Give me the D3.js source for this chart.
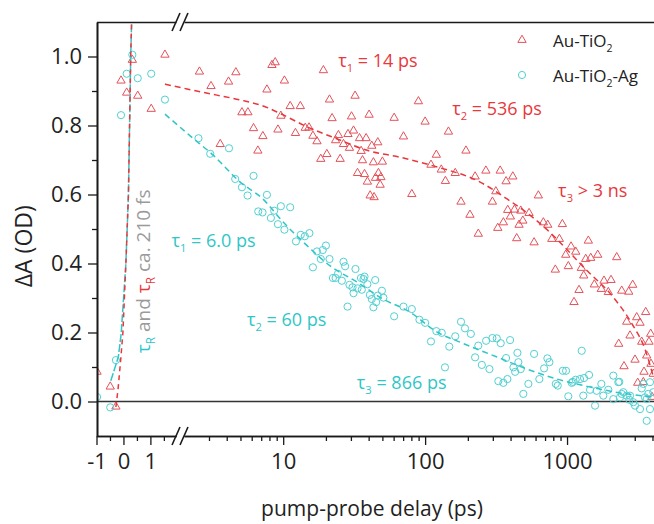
<!DOCTYPE html>
<html>
<head>
<meta charset="utf-8">
<script src="https://cdn.jsdelivr.net/npm/d3@7/dist/d3.min.js"></script>
<style>
  body { margin: 0; background: #fff; }
  svg text { font-family: "Open Sans", "Noto Sans", sans-serif; font-weight: 400; }
</style>
</head>
<body>
<div id="chart"></div>
<script>
// delay (ps), dA (OD)
const auTiO2Points = [
  [-0.98, 0.086], [-0.49, 0.043], [-0.28, -0.015], [-0.09, 0.93], [0.12, 0.895], [0.33, 0.99], [0.53, 0.886], [1.03, 0.848], [1.54, 1.005],
  [2.57, 0.956], [3.10, 0.914], [3.60, 0.746], [4.12, 0.927], [4.64, 0.954], [5.12, 0.838], [5.64, 0.838], [6.18, 0.792], [6.63, 0.727],
  [7.19, 0.769], [7.68, 0.904], [8.33, 0.975], [8.78, 0.983], [9.18, 0.788], [9.63, 0.828], [10.2, 0.930], [11.2, 0.856], [12.2, 0.778],
  [13.2, 0.856], [14.3, 0.793], [15.2, 0.794], [16.2, 0.770], [17.3, 0.754], [18.4, 0.703], [19.2, 0.960], [20.3, 0.717], [21.2, 0.875],
  [22.1, 0.821], [23.4, 0.757], [24.5, 0.772], [25.2, 0.703], [26.6, 0.746], [28.6, 0.775], [29.3, 0.735], [30.3, 0.826], [31.3, 0.785],
  [32.1, 0.886], [33.4, 0.662], [34.5, 0.763], [35.4, 0.726], [36.2, 0.699], [37.4, 0.659], [38.4, 0.763], [39.2, 0.637], [40.3, 0.831],
  [41.0, 0.597], [42.1, 0.741], [43.2, 0.693], [43.7, 0.592], [44.7, 0.648], [46.4, 0.751], [46.9, 0.662], [48.2, 0.628], [48.8, 0.650],
  [50.0, 0.695], [60.5, 0.822], [70.4, 0.768], [80.6, 0.601], [89.7, 0.870], [100, 0.811], [110, 0.686], [120, 0.715], [130, 0.672],
  [139, 0.639], [146, 0.782], [163, 0.662], [179, 0.579], [194, 0.727], [207, 0.541], [225, 0.652], [237, 0.486], [268, 0.669],
  [298, 0.579], [315, 0.609], [325, 0.503], [338, 0.669], [356, 0.519], [372, 0.638], [382, 0.555], [399, 0.536], [415, 0.652],
  [426, 0.556], [442, 0.473], [459, 0.512], [472, 0.553], [488, 0.524], [540, 0.546], [586, 0.461], [628, 0.597], [681, 0.519],
  [731, 0.512], [781, 0.471], [827, 0.382], [883, 0.471], [927, 0.514], [979, 0.425], [1021, 0.392], [1067, 0.449], [1120, 0.288],
  [1151, 0.434], [1215, 0.323], [1261, 0.387], [1311, 0.365], [1354, 0.413], [1413, 0.466], [1469, 0.416], [1557, 0.339], [1645, 0.425],
  [1743, 0.326], [1822, 0.350], [1954, 0.317], [2041, 0.352], [2239, 0.418], [2312, 0.167], [2428, 0.321], [2520, 0.102], [2633, 0.231],
  [2720, 0.318], [2778, 0.191], [2902, 0.338], [3013, 0.121], [3096, 0.244], [3148, 0.054], [3267, 0.228], [3358, 0.173], [3447, 0.056],
  [3486, 0.086], [3584, 0.259], [3642, 0.133], [3780, 0.173], [3886, 0.196], [3905, 0.109], [3969, 0.013], [4053, 0.080]
];

const auTiO2AgPoints = [
  [-0.98, 0.013], [-0.49, -0.017], [-0.28, 0.12], [-0.09, 0.83], [0.12, 0.95], [0.33, 1.005], [0.53, 0.937], [1.03, 0.95], [1.54, 0.875],
  [2.53, 0.763], [3.06, 0.718], [4.15, 0.734], [4.59, 0.645], [5.12, 0.621], [5.61, 0.597], [6.18, 0.654], [6.67, 0.551], [7.15, 0.548],
  [7.68, 0.599], [8.19, 0.532], [8.64, 0.553], [9.18, 0.514], [9.63, 0.566], [10.2, 0.498], [11.2, 0.563], [12.3, 0.464], [13.3, 0.483],
  [14.2, 0.479], [15.3, 0.488], [16.2, 0.389], [17.3, 0.435], [18.4, 0.413], [19.0, 0.439], [20.0, 0.452], [21.2, 0.413], [22.4, 0.358],
  [23.4, 0.358], [24.3, 0.370], [25.9, 0.350], [26.6, 0.405], [27.3, 0.392], [28.4, 0.275], [29.3, 0.338], [30.8, 0.331], [31.3, 0.314],
  [32.3, 0.384], [33.4, 0.328], [35.3, 0.358], [35.8, 0.324], [36.8, 0.355], [37.4, 0.362], [39.2, 0.340], [40.8, 0.309], [42.1, 0.297],
  [43.2, 0.273], [44.5, 0.352], [45.2, 0.288], [46.4, 0.307], [49.6, 0.321], [50.8, 0.301], [60.5, 0.247], [70.4, 0.275], [80.6, 0.268],
  [91.2, 0.237], [100, 0.228], [110, 0.174], [120, 0.204], [131, 0.199], [138, 0.099], [148, 0.159], [163, 0.189], [179, 0.231],
  [191, 0.212], [210, 0.196], [225, 0.128], [237, 0.162], [251, 0.106], [269, 0.176], [284, 0.094], [298, 0.184], [320, 0.183],
  [328, 0.059], [341, 0.169], [356, 0.054], [372, 0.126], [380, 0.065], [397, 0.178], [419, 0.099], [431, 0.086], [447, 0.141],
  [454, 0.114], [472, 0.094], [492, 0.022], [534, 0.051], [586, 0.138], [638, 0.065], [689, 0.096], [727, 0.125], [751, 0.114],
  [833, 0.051], [860, 0.046], [933, 0.089], [984, 0.089], [1021, 0.015], [1079, 0.054], [1097, 0.057], [1151, 0.063], [1235, 0.065],
  [1269, 0.147], [1302, 0.017], [1318, 0.068], [1429, 0.077], [1452, 0.034], [1575, -0.012], [1619, 0.031], [1745, 0.051], [1801, 0.017],
  [1954, 0.034], [2119, 0.075], [2119, 0.007], [2297, 0.056], [2335, 0.057], [2362, 0.012], [2428, 0.022], [2492, 0.027], [2633, 0.017],
  [2746, 0.005], [2778, 0.017], [2930, -0.002], [3013, -0.012], [3267, -0.022], [3358, 0.038], [3447, 0.051], [3542, 0.012], [3642, 0.007],
  [3642, -0.056], [3736, 0.022], [3841, 0.056], [3841, -0.022], [4053, 0.027]
];

// fitted curves (dashed)
const auTiO2Rise = [[-0.28, -0.016], [-0.2, 0.036], [-0.1, 0.123], [-0.02, 0.2], [0.09, 0.4], [0.185, 0.6], [0.27, 1.0], [0.31, 1.12]];
const auTiO2AgRise = [[-0.47, 0.06], [-0.19, 0.129], [-0.085, 0.196], [0.09, 0.4], [0.185, 0.6], [0.27, 1.0], [0.31, 1.12]];
const auTiO2Fit = [
  [1.54, 0.92], [2.1, 0.906], [3.41, 0.888], [5.0, 0.874], [7.4, 0.855], [9.5, 0.835], [14.8, 0.796], [24, 0.761], [39, 0.728],
  [66.7, 0.708], [114, 0.683], [244, 0.636], [378, 0.587], [548, 0.54], [759, 0.49], [1000, 0.44], [1340, 0.385], [2110, 0.303],
  [2870, 0.225], [3540, 0.152], [4100, 0.065]
];
const auTiO2AgFit = [
  [1.54, 0.833], [2.21, 0.770], [3.21, 0.714], [4.98, 0.636], [7.2, 0.587], [10, 0.520], [14.8, 0.451], [21.4, 0.393], [33.2, 0.346],
  [50.6, 0.297], [78.4, 0.259], [121.6, 0.201], [176, 0.172], [321, 0.129], [523, 0.094], [851, 0.065], [1452, 0.042], [2360, 0.025],
  [4080, 0.013]
];

const xLinTicks = [-1, 0, 1];
const xLinMinor = [-0.5, 0.5, 1.5];
const xLogTicks = [10, 100, 1000];
const xLogMinor = [3, 4, 5, 6, 7, 8, 9, 20, 30, 40, 50, 60, 70, 80, 90, 200, 300, 400, 500, 600, 700, 800, 900, 2000, 3000, 4000];
const yTicks = [0, 0.2, 0.4, 0.6, 0.8, 1.0];
const yMinor = [0.1, 0.3, 0.5, 0.7, 0.9];

const red = "#e8383d";
const cyan = "#2fc6c8";

const width = 654;
const height = 524;
const plotTop = 22, plotBottom = 436, plotLeft = 97, plotRight = 654;

const svg = d3.select("#chart")
  .append("svg")
  .attr("width", width)
  .attr("height", height);

// broken x axis: linear part then log part
const xLin = d3.scaleLinear().domain([-1, 1.95]).range([96.5, 176]);
const xLog = d3.scaleLog().domain([2, 4100]).range([184, plotRight]);
const x = (v) => (v < 1.97 ? xLin(v) : xLog(v));
const y = d3.scaleLinear().domain([-0.1, 1.1]).range([plotBottom, plotTop]);

svg.append("clipPath").attr("id", "plot")
  .append("rect").attr("x", plotLeft).attr("y", plotTop).attr("width", plotRight - plotLeft).attr("height", plotBottom - plotTop);

// zero line
svg.append("line")
  .attr("x1", plotLeft).attr("x2", plotRight)
  .attr("y1", y(0)).attr("y2", y(0))
  .attr("stroke", "#333").attr("stroke-width", 1.6);

const plot = svg.append("g").attr("clip-path", "url(#plot)");

const line = d3.line().x((d) => x(d[0])).y((d) => y(d[1]));
const smooth = d3.line().curve(d3.curveMonotoneX).x((d) => x(d[0])).y((d) => y(d[1]));

// scatter
plot.append("g").selectAll("path")
  .data(auTiO2Points)
  .enter().append("path")
  .attr("d", d3.symbol().type(d3.symbolTriangle).size(30))
  .attr("transform", (d) => "translate(" + x(d[0]) + "," + y(d[1]) + ")")
  .attr("fill", "none")
  .attr("stroke", "#e4525a")
  .attr("stroke-width", 1);

plot.append("g").selectAll("circle")
  .data(auTiO2AgPoints)
  .enter().append("circle")
  .attr("cx", (d) => x(d[0]))
  .attr("cy", (d) => y(d[1]))
  .attr("r", 3.6)
  .attr("fill", "none")
  .attr("stroke", "#52d0d2")
  .attr("stroke-width", 1);

// fit lines
plot.append("path").attr("d", line(auTiO2AgRise))
  .attr("fill", "none").attr("stroke", cyan).attr("stroke-width", 1.5).attr("stroke-dasharray", "8,2");
plot.append("path").attr("d", line(auTiO2Rise))
  .attr("fill", "none").attr("stroke", red).attr("stroke-width", 1.5).attr("stroke-dasharray", "5,4");
plot.append("path").attr("d", smooth(auTiO2Fit))
  .attr("fill", "none").attr("stroke", red).attr("stroke-width", 1.5).attr("stroke-dasharray", "6,4");
plot.append("path").attr("d", smooth(auTiO2AgFit))
  .attr("fill", "none").attr("stroke", cyan).attr("stroke-width", 1.5).attr("stroke-dasharray", "6,4");

// axes
const axisColor = "#1a1a1a";
const styleAxis = (g) => {
  g.select(".domain").attr("stroke", axisColor).attr("stroke-width", 1.6);
  g.selectAll(".tick line").attr("stroke", axisColor).attr("stroke-width", 1.3);
  g.selectAll(".tick text").attr("fill", "#222").style("font-size", "22px").style("font-family", "'Open Sans', sans-serif");
};

const plain = (d) => String(d);
const bottomAxes = [
  d3.axisBottom(xLin).tickValues(xLinTicks).tickSize(9).tickPadding(8).tickFormat(plain),
  d3.axisBottom(xLin).tickValues(xLinMinor).tickSize(5).tickFormat(""),
  d3.axisBottom(xLog).tickValues(xLogTicks).tickSize(9).tickPadding(8).tickFormat(plain),
  d3.axisBottom(xLog).tickValues(xLogMinor).tickSize(5).tickFormat("")
];
bottomAxes.forEach((a) => {
  svg.append("g")
    .attr("transform", "translate(0," + plotBottom + ")")
    .call(a.tickSizeOuter(0))
    .call(styleAxis);
});

[xLin, xLog].forEach((s) => {
  svg.append("g")
    .attr("transform", "translate(0," + plotTop + ")")
    .call(d3.axisTop(s).tickValues([]).tickSizeOuter(0))
    .call(styleAxis);
});

svg.append("g")
  .attr("transform", "translate(" + plotLeft + ",0)")
  .call(d3.axisLeft(y).tickValues(yTicks).tickSize(9).tickPadding(6).tickSizeOuter(0).tickFormat(d3.format(".1f")))
  .call(styleAxis);
svg.append("g")
  .attr("transform", "translate(" + plotLeft + ",0)")
  .call(d3.axisLeft(y).tickValues(yMinor).tickSize(5).tickSizeOuter(0).tickFormat(""))
  .call(styleAxis);

// break marks
[plotTop, plotBottom].forEach((yy) => {
  [xLin(1.95), xLog(2)].forEach((xx) => {
    svg.append("line")
      .attr("x1", xx - 4).attr("y1", yy + 9)
      .attr("x2", xx + 4).attr("y2", yy - 9)
      .attr("stroke", axisColor).attr("stroke-width", 1.6);
  });
});

// axis titles
svg.append("text")
  .attr("x", 372)
  .attr("y", 516)
  .attr("text-anchor", "middle")
  .attr("fill", "#222")
  .style("font-size", "21px")
  .text("pump-probe delay (ps)");

svg.append("text")
  .attr("transform", "translate(32," + y(0.45) + ") rotate(-90)")
  .attr("text-anchor", "middle")
  .attr("fill", "#222")
  .style("font-size", "23px")
  .text("ΔA (OD)");

// annotation helper: parts are [text, isSub, color]
const label = (g, px, py, parts, size) => {
  const t = g.append("text").attr("x", px).attr("y", py).style("font-size", size + "px");
  let shifted = false;
  parts.forEach((p) => {
    const dy = p[1] && !shifted ? 5 : !p[1] && shifted ? -5 : 0;
    shifted = p[1];
    t.append("tspan")
      .attr("dy", dy)
      .attr("fill", p[2])
      .style("font-size", p[1] ? size * 0.62 + "px" : null)
      .text(p[0]);
  });
  return t;
};

label(svg, x(24.4), y(0.97), [["τ", false, red], ["1", true, red], [" = 14 ps", false, red]], 18);
label(svg, x(155), y(0.83), [["τ", false, red], ["2", true, red], [" = 536 ps", false, red]], 18);
label(svg, x(865), y(0.593), [["τ", false, red], ["3", true, red], [" > 3 ns", false, red]], 18);
label(svg, x(1.78), y(0.448), [["τ", false, cyan], ["1", true, cyan], [" = 6.0 ps", false, cyan]], 18);
label(svg, x(5.55), y(0.219), [["τ", false, cyan], ["2", true, cyan], [" = 60 ps", false, cyan]], 18);
label(svg, x(33), y(0.036), [["τ", false, cyan], ["3", true, cyan], [" = 866 ps", false, cyan]], 18);

const gray = "#9a9a9a";
label(svg, 0, 0, [["τ", false, cyan], ["R", true, cyan], [" and ", false, gray], ["τ", false, red], ["R", true, red], [" ca. 210 fs", false, gray]], 19)
  .attr("transform", "translate(" + (xLin(1.09) - 3) + "," + y(0.14) + ") rotate(-90)");

// legend
const legend = svg.append("g").attr("transform", "translate(522,40)");
legend.append("path")
  .attr("d", d3.symbol().type(d3.symbolTriangle).size(30))
  .attr("fill", "none").attr("stroke", "#e4525a");
legend.append("circle")
  .attr("cy", 35).attr("r", 3.6)
  .attr("fill", "none").attr("stroke", "#52d0d2");
label(legend, 31, 7, [["Au-TiO", false, "#222"], ["2", true, "#222"]], 17);
label(legend, 31, 42, [["Au-TiO", false, "#222"], ["2", true, "#222"], ["-Ag", false, "#222"]], 17);
</script>
</body>
</html>
